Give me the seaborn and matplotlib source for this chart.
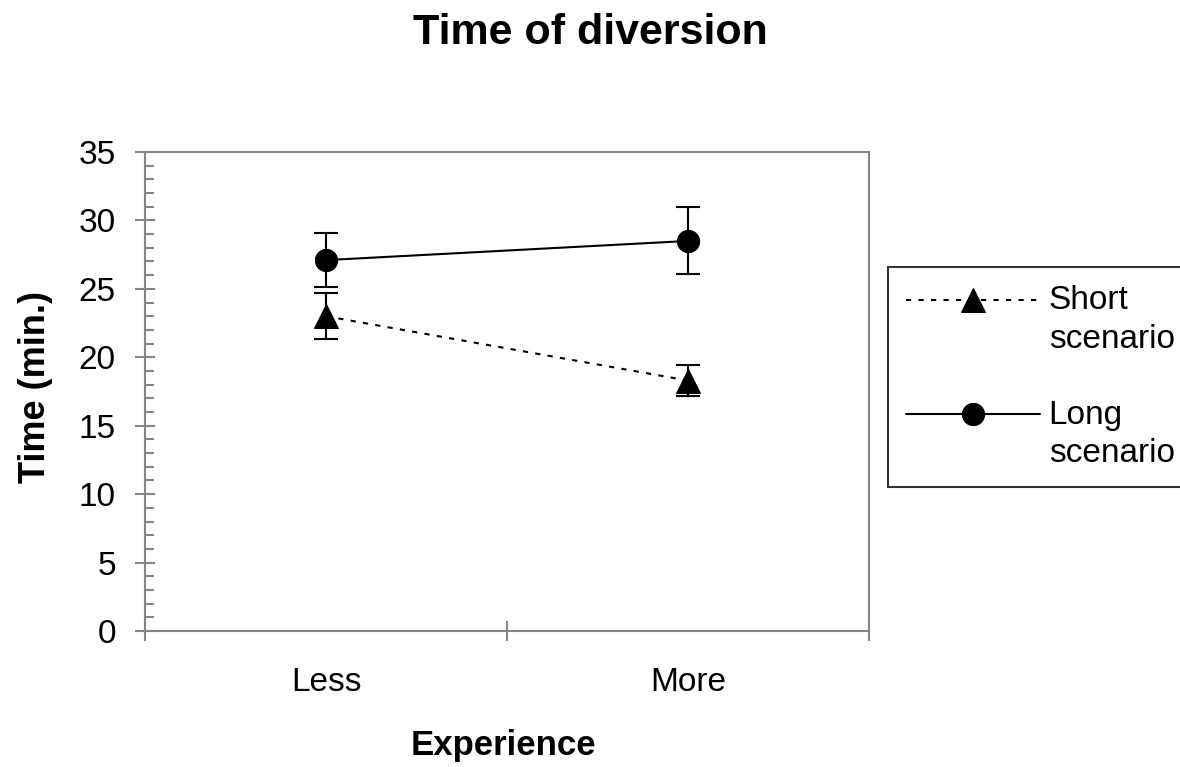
import numpy as np
import pandas as pd
import matplotlib
matplotlib.use("Agg")
import matplotlib.pyplot as plt
from matplotlib.legend_handler import HandlerLine2D
import seaborn as sns

# values
experience = ["Less", "More"]
short_mean = [23.0, 18.3]
short_err = [1.7, 1.1]
long_mean = [27.1, 28.5]
long_err = [2.0, 2.45]
series_names = ["Short\nscenario", "Long\nscenario"]

df = pd.DataFrame({
    "Experience": experience * 2,
    "Time": short_mean + long_mean,
    "Err": short_err + long_err,
    "Scenario": [series_names[0]] * 2 + [series_names[1]] * 2,
})

sns.set_theme(style="white")
plt.rcParams["font.family"] = ["Liberation Sans", "DejaVu Sans"]
plt.rcParams["text.color"] = "black"
plt.rcParams["axes.labelcolor"] = "black"


# legend handle sits on the first line of the two-line label
class FirstLineHandler(HandlerLine2D):
    def create_artists(self, legend, orig_handle, xdescent, ydescent,
                       width, height, fontsize, trans):
        arts = super().create_artists(legend, orig_handle, xdescent, ydescent,
                                      width, height, fontsize, trans)
        for a in arts:
            a.set_ydata(np.asarray(a.get_ydata(), dtype=float) + 0.62 * fontsize)
        return arts


fig = plt.figure(figsize=(11.8, 7.67), dpi=100)
ax = fig.add_axes([145 / 1180, 1 - 631 / 767, 724 / 1180, 479 / 767])

sns.lineplot(data=df, x="Experience", y="Time", hue="Scenario", style="Scenario",
             palette=["black", "black"], markers=["^", "o"],
             dashes=[(2.5, 3.5), ""], linewidth=1.5, markersize=16,
             markeredgecolor="black", ax=ax, legend=True, zorder=3)
for ln in ax.get_lines():
    if ln.get_marker() == "^":
        ln.set_markersize(17)

for name in series_names:
    sub = df[df["Scenario"] == name]
    ax.errorbar(sub["Experience"], sub["Time"], yerr=sub["Err"], fmt="none",
                ecolor="black", elinewidth=1.5, capsize=8.6, capthick=1.5, zorder=2)

ax.set_xlim(-0.5, 1.5)
ax.set_ylim(0, 35)
ax.set_yticks(range(0, 36, 5))
ax.set_yticks(range(0, 36, 1), minor=True)
ax.set_xticks([0, 1])
ax.set_xticklabels(experience)
ax.set_xticks([-0.5, 0.5, 1.5], minor=True)

gray = "#868686"
for s in ax.spines.values():
    s.set_color(gray)
    s.set_linewidth(1.5)

ax.tick_params(axis="y", which="major", direction="inout", length=14, width=1.5,
               color=gray, labelsize=24, pad=14, left=True, labelcolor="black")
ax.tick_params(axis="y", which="minor", direction="in", length=6.5, width=1.5,
               color=gray, left=True)
ax.tick_params(axis="x", which="major", length=0, labelsize=24, pad=26,
               bottom=True, labelcolor="black")
ax.tick_params(axis="x", which="minor", direction="inout", length=14, width=1.5,
               color=gray, bottom=True)

ax.set_xlabel("")
ax.set_ylabel("")
fig.text(0.5, 1 - 33 / 767, "Time of diversion", ha="center", va="center",
         fontsize=31, fontweight="bold")
fig.text(503 / 1180, 1 - 745 / 767, "Experience", ha="center", va="center",
         fontsize=25, fontweight="bold")
fig.text(36 / 1180, 1 - 387 / 767, "Time (min.)", ha="center", va="center",
         rotation=90, fontsize=26, fontweight="bold")

handles, labels = ax.get_legend_handles_labels()
for h in handles:
    if h.get_marker() == "^":
        h.set_markersize(17)
leg = fig.legend(handles, labels, loc="upper left",
                 bbox_to_anchor=(888 / 1180, 1 - 267 / 767),
                 fontsize=24, frameon=True, fancybox=False, handlelength=4.0,
                 handletextpad=0.27, labelspacing=1.35, borderaxespad=0,
                 borderpad=0.55, handler_map={h: FirstLineHandler() for h in handles})
for t in leg.get_texts():
    t.set_linespacing(1.3)
leg.get_frame().set_edgecolor("black")
leg.get_frame().set_linewidth(1.5)
ax.get_legend().remove()

fig.savefig("out.png", dpi=100)
